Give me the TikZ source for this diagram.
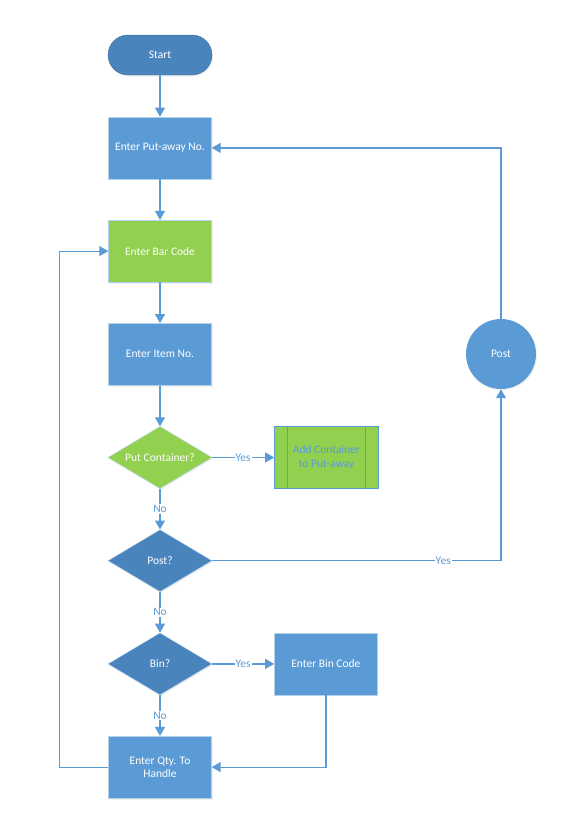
\documentclass[tikz,border=0pt]{standalone}
\usepackage{fontspec}
\setmainfont{Carlito}
\usepackage{tikz}
\usetikzlibrary{shapes,shapes.geometric,arrows.meta,positioning,shadows}

\definecolor{boxblue}{HTML}{5B9BD5}
\definecolor{darkblue}{HTML}{4A84BC}
\definecolor{edgeblue}{HTML}{41719C}
\definecolor{boxgreen}{HTML}{92D050}
\definecolor{lineblue}{HTML}{5B9BD5}

\begin{document}
\begin{tikzpicture}[x=1pt, y=1pt, node distance=40.8pt,
    every node/.style={font=\fontsize{11.5}{13.5}\selectfont},
    shade/.style={drop shadow={opacity=0.12, shadow xshift=1pt, shadow yshift=-1.5pt}},
    process/.style={draw=boxblue!45!white, rectangle, fill=boxblue, text=white, minimum width=103pt, minimum height=62pt, align=center, shade},
    decision/.style={draw=boxblue!45!white, diamond, aspect=1.68, inner sep=0pt, fill=darkblue, text=white, minimum width=104pt, minimum height=62pt, shade},
    startstop/.style={draw=edgeblue, rectangle, rounded corners=20pt, fill=darkblue, text=white, minimum width=104pt, minimum height=40pt, shade},
    predef/.style={draw=boxblue, rectangle, fill=boxgreen, text=boxblue, minimum width=104pt, minimum height=62pt, align=center,
        path picture={\draw[boxblue] ([xshift=13pt]path picture bounding box.north west) -- ([xshift=13pt]path picture bounding box.south west);
                      \draw[boxblue] ([xshift=-13pt]path picture bounding box.north east) -- ([xshift=-13pt]path picture bounding box.south east);}},
    connect/.style={draw=lineblue, line width=1.2pt, -{Triangle[width=10pt,length=9pt]}},
    flowlabel/.style={fill=white, text=lineblue, inner sep=1pt}]
    \useasboundingbox (0,0) rectangle (585,-827);

    % Main column
    \node[startstop] (start) at (160,-55) {Start};
    \node[process, below=41.5pt of start] (putaway) {Enter Put-away No.};
    \node[process, fill=boxgreen, below=of putaway] (barcode) {Enter Bar Code};
    \node[process, below=of barcode] (itemno) {Enter Item No.};

    % Decisions
    \node[decision, fill=boxgreen, below=of itemno] (putcont) {Put Container?};
    \node[decision, below=of putcont] (postq) {Post?};
    \node[decision, below=of postq] (binq) {Bin?};
    \node[process, below=of binq] (qty) {Enter Qty. To\\Handle};

    % Side nodes
    \node[predef, right=62pt of putcont] (addcont) {Add Container\\to Put-away};
    \node[process, right=62pt of binq] (bincode) {Enter Bin Code};
    \node[circle, fill=boxblue, text=white, minimum size=70pt, shade] (post) at (501,-354) {Post};

    % Arrows
    \draw[connect] (start) -- (putaway);
    \draw[connect] (putaway) -- (barcode);
    \draw[connect] (barcode) -- (itemno);
    \draw[connect] (itemno) -- (putcont);

    \draw[connect] (putcont) -- node[flowlabel] {Yes} (addcont);
    \draw[connect] (putcont) -- node[flowlabel] {No} (postq);
    \draw[connect] (postq.east) -| node[flowlabel, pos=0.4] {Yes} (post.south);
    \draw[connect] (post.north) |- (putaway.east);

    \draw[connect] (postq) -- node[flowlabel] {No} (binq);
    \draw[connect] (binq) -- node[flowlabel] {Yes} (bincode);
    \draw[connect] (binq) -- node[flowlabel] {No} (qty);
    \draw[connect] (bincode.south) |- (qty.east);
    \draw[connect] (qty.west) -- ++(-49,0) |- (barcode.west);
\end{tikzpicture}
\end{document}
